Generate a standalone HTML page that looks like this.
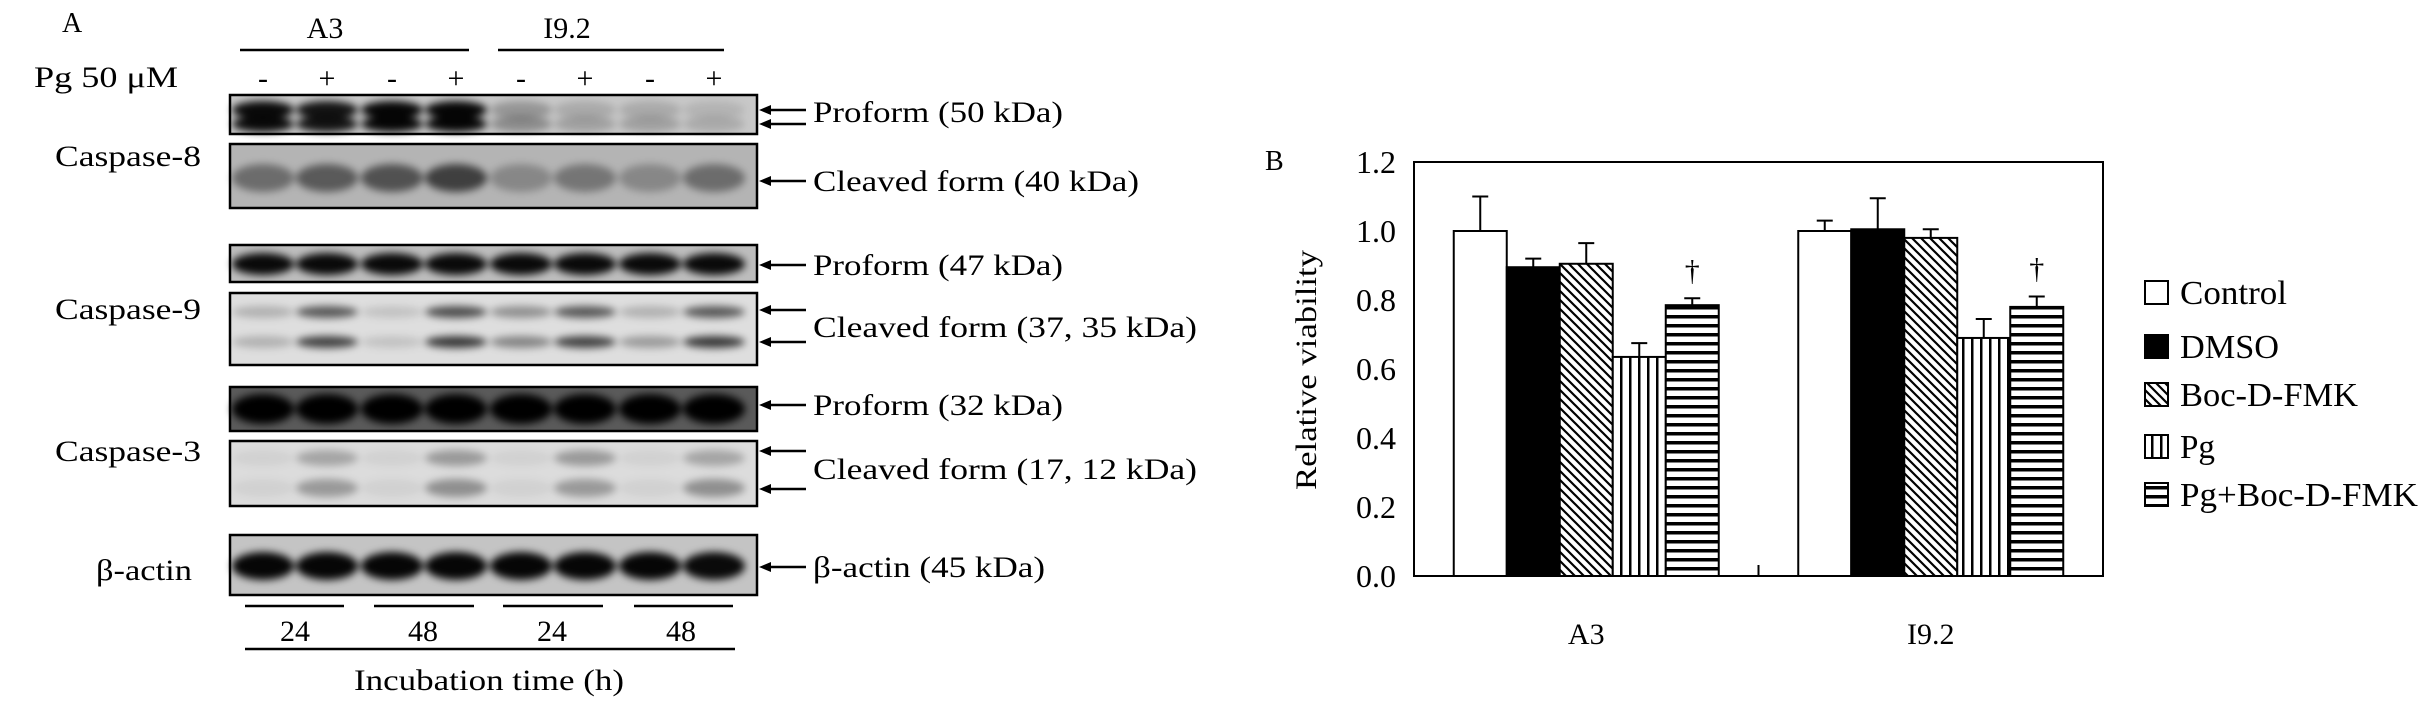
<!DOCTYPE html>
<html><head><meta charset="utf-8"><style>
html,body{margin:0;padding:0;background:#fff;}
svg{display:block;font-family:"Liberation Serif",serif;}
</style></head><body>
<svg id="fig" width="2428" height="716" viewBox="0 0 2428 716" xmlns="http://www.w3.org/2000/svg">
<defs>
<filter id="blur" x="-20%" y="-50%" width="140%" height="200%"><feGaussianBlur stdDeviation="4"/></filter>
<pattern id="diag" patternUnits="userSpaceOnUse" width="9" height="9"><rect width="9" height="9" fill="#fff"/><path d="M-2,-2 L11,11 M-2,7 L2,11 M7,-2 L11,2" stroke="#000" stroke-width="2.2"/></pattern>
<pattern id="vert" patternUnits="userSpaceOnUse" width="9" height="9"><rect width="9" height="9" fill="#fff"/><rect x="0" y="0" width="2.5" height="9" fill="#000"/></pattern>
<pattern id="horiz" patternUnits="userSpaceOnUse" width="9" height="9"><rect width="9" height="9" fill="#fff"/><rect x="0" y="0" width="9" height="3.5" fill="#000"/></pattern>
</defs>

<!-- Panel A -->
<g id="panelA" font-size="30" fill="#000">
<text x="62" y="32" font-size="28">A</text>
<text x="325" y="38" text-anchor="middle">A3</text>
<line x1="240" y1="50" x2="469" y2="50" stroke="#000" stroke-width="2.5"/>
<text x="567" y="38" text-anchor="middle">I9.2</text>
<line x1="498" y1="50" x2="724" y2="50" stroke="#000" stroke-width="2.5"/>
<text x="34" y="87" textLength="144" lengthAdjust="spacingAndGlyphs">Pg 50 μM</text>
<g id="signs"></g>
<g id="blots"></g>
<g id="arrows"></g>
<text x="55" y="166" textLength="146" lengthAdjust="spacingAndGlyphs">Caspase-8</text>
<text x="55" y="319" textLength="146" lengthAdjust="spacingAndGlyphs">Caspase-9</text>
<text x="55" y="461" textLength="146" lengthAdjust="spacingAndGlyphs">Caspase-3</text>
<text x="96" y="580" textLength="96" lengthAdjust="spacingAndGlyphs">β-actin</text>
<g stroke="#000" stroke-width="2.5">
<line x1="245" y1="606" x2="344" y2="606"/><line x1="374" y1="606" x2="474" y2="606"/>
<line x1="503" y1="606" x2="603" y2="606"/><line x1="634" y1="606" x2="733" y2="606"/>
<line x1="245" y1="649" x2="735" y2="649"/>
</g>
<text x="295" y="641" text-anchor="middle">24</text>
<text x="423" y="641" text-anchor="middle">48</text>
<text x="552" y="641" text-anchor="middle">24</text>
<text x="681" y="641" text-anchor="middle">48</text>
<text x="489" y="690" text-anchor="middle" textLength="270" lengthAdjust="spacingAndGlyphs">Incubation time (h)</text>
</g>

<!-- Panel B -->
<g id="panelB" font-size="30">
<text x="1265" y="170" font-size="28">B</text>
<g id="yaxis"></g>
<g id="bars"></g>
<rect x="1414" y="162" width="689" height="414" fill="none" stroke="#000" stroke-width="2"/>
<text transform="translate(1316,370) rotate(-90)" text-anchor="middle" font-size="30" textLength="240" lengthAdjust="spacingAndGlyphs">Relative viability</text>
<g id="legend"></g>
</g>
</svg>
<script>
var NS="http://www.w3.org/2000/svg";
function mk(tag,attrs,parent){var e=document.createElementNS(NS,tag);for(var k in attrs)e.setAttribute(k,attrs[k]);parent.appendChild(e);return e;}

/* ---- Panel A (blot) data ---- */
var laneX=[263,327,392,456,521,585,650,714];
var signs=["-","+","-","+","-","+","-","+"];
var sg=document.getElementById('signs');
signs.forEach(function(s,i){
  var t=mk('text',{x:laneX[i],y:88,'text-anchor':'middle'},sg);
  
  
  t.textContent=s;
});
var rows=[
 {y0:95,y1:134,bg:"#c8c8c8",bands:[[110,9,[0.95,0.9,0.97,0.97,0.25,0.15,0.15,0.1]],[124,8,[0.95,0.9,0.97,0.97,0.3,0.2,0.2,0.15]]]},
 {y0:144,y1:208,bg:"#b4b4b4",bands:[[178,14,[0.4,0.5,0.55,0.65,0.25,0.35,0.25,0.4]]]},
 {y0:245,y1:282,bg:"#bdbdbd",bands:[[264,11,[0.95,0.95,0.95,0.95,0.95,0.95,0.95,0.95]]]},
 {y0:293,y1:365,bg:"#dedede",bands:[[312,6,[0.2,0.6,0.12,0.65,0.35,0.6,0.2,0.6]],[342,6,[0.2,0.7,0.12,0.75,0.4,0.7,0.3,0.75]]]},
 {y0:387,y1:431,bg:"#5a5a5a",bands:[[409,15,[1,1,1,1,1,1,1,1]]]},
 {y0:441,y1:506,bg:"#dcdcdc",bands:[[458,8,[0.05,0.25,0.05,0.3,0.05,0.3,0.05,0.25]],[488,9,[0.05,0.3,0.05,0.35,0.05,0.3,0.05,0.35]]]},
 {y0:535,y1:595,bg:"#c4c4c4",bands:[[566,14,[0.97,0.97,0.97,0.97,0.97,0.97,0.97,0.95]]]}
];
var bl=document.getElementById('blots');
rows.forEach(function(r,ri){
  var g=mk('g',{},bl);
  
  
  mk('rect',{x:230,y:r.y0,width:527,height:r.y1-r.y0,fill:r.bg},g);
  var cg=mk('g',{filter:'url(#blur)'},g);
  r.bands.forEach(function(b){
    b[2].forEach(function(op,i){
      var e=mk('ellipse',{cx:laneX[i],cy:b[0],rx:31,ry:b[1],fill:'#000','fill-opacity':op},cg);
      
      
    });
  });
  mk('rect',{x:230,y:r.y0,width:527,height:r.y1-r.y0,fill:'none',stroke:'#000','stroke-width':2.5},g);
});
var arrowYs=[110,124,181,265,310,342,405,451,489,567];
var ag=document.getElementById('arrows');
arrowYs.forEach(function(y){
  var g=mk('g',{},ag);
  
  
  mk('line',{x1:768,y1:y,x2:806,y2:y,stroke:'#000','stroke-width':2.5},g);
  mk('path',{d:'M759,'+y+' l12,-5 l0,10 z',fill:'#000'},g);
});
var labels=[["Proform (50 kDa)",122,"proform-50-label",250],["Cleaved form (40 kDa)",191,"cleaved-40-label",326],["Proform (47 kDa)",275,"proform-47-label",250],["Cleaved form (37, 35 kDa)",337,"cleaved-37-35-label",384],["Proform (32 kDa)",415,"proform-32-label",250],["Cleaved form (17, 12 kDa)",479,"cleaved-17-12-label",384],["β-actin (45 kDa)",577,"beta-actin-45-label",232]];
labels.forEach(function(l){
  var t=mk('text',{x:813,y:l[1],textLength:l[3],lengthAdjust:'spacingAndGlyphs'},ag);
  
  
  t.textContent=l[0];
});

/* ---- Panel B (chart) data ---- */
var groups=["A3","I9.2"];
var series=["Control","DMSO","Boc-D-FMK","Pg","Pg+Boc-D-FMK"];
var valuesA3=[1.0,0.895,0.905,0.635,0.785];
var valuesI92=[1.0,1.005,0.98,0.69,0.78];
var errA3=[0.10,0.025,0.06,0.04,0.02];
var errI92=[0.03,0.09,0.025,0.055,0.03];
var dagger=[[0,4],[1,4]];
var yTicks=[0.0,0.2,0.4,0.6,0.8,1.0,1.2];
var yTickLabels=["0.0","0.2","0.4","0.6","0.8","1.0","1.2"];
var legendLengths=[107,99,178,35,238];
var fills=["#fff","#000","url(#diag)","url(#vert)","url(#horiz)"];

var X0=1414,X1=2103,Y0=576,Y1=162,YMAX=1.2;
function yS(v){return Y0-(v/YMAX)*(Y0-Y1);}
var bandW=(X1-X0)/groups.length;
function gC(i){return X0+bandW*(i+0.5);}
var barW=53;
function bX(gi,si){return gC(gi)-barW*series.length/2+si*barW;}

var ya=document.getElementById('yaxis');
yTicks.forEach(function(v,i){
  var t=mk('text',{x:1396,y:yS(v)+11,'text-anchor':'end','font-size':32},ya);
  
  
  t.textContent=yTickLabels[i];
});
var bg=document.getElementById('bars');
var allVals=[valuesA3,valuesI92],allErr=[errA3,errI92];
groups.forEach(function(g,gi){
  series.forEach(function(s,si){
    var v=allVals[gi][si],e=allErr[gi][si],x=bX(gi,si);
    var r=mk('rect',{x:x,y:yS(v),width:barW,height:Y0-yS(v),fill:fills[si],stroke:'#000','stroke-width':2},bg);
    
    
    var cx=x+barW/2;
    var eb=mk('path',{d:'M'+cx+','+yS(v)+' V'+yS(v+e)+' M'+(cx-8)+','+yS(v+e)+' H'+(cx+8),stroke:'#000','stroke-width':2,fill:'none'},bg);
    
    
  });
  var t=mk('text',{x:gC(gi),y:Y0+68,'text-anchor':'middle'},bg);
  
  
  t.textContent=g;
});
dagger.forEach(function(d){
  var gi=d[0],si=d[1],v=allVals[gi][si]+allErr[gi][si];
  var t=mk('text',{x:bX(gi,si)+barW/2,y:yS(v)-18,'text-anchor':'middle','font-size':30},bg);
  
  
  t.textContent='†';
});
mk('line',{x1:(X0+X1)/2,y1:Y0,x2:(X0+X1)/2,y2:Y0-11,stroke:'#000','stroke-width':2},bg);

var lg=document.getElementById('legend');
var legY=[293,347,395,447,495];
series.forEach(function(s,si){
  var g=mk('g',{},lg);
  
  
  mk('rect',{x:2145,y:legY[si]-12,width:23,height:23,fill:fills[si],stroke:'#000','stroke-width':2},g);
  var t=mk('text',{x:2180,y:legY[si]+11,'font-size':34,textLength:legendLengths[si],lengthAdjust:'spacingAndGlyphs'},g);
  t.textContent=s;
});
</script>
</body></html>
